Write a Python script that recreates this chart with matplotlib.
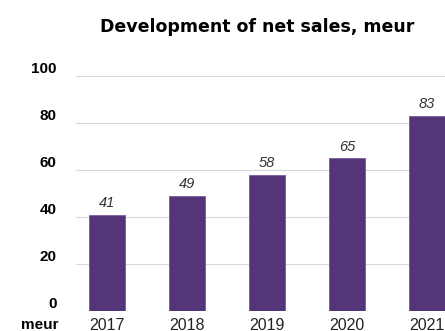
import matplotlib.pyplot as plt
import numpy as np

years = ['2017', '2018', '2019', '2020', '2021']
net_sales = [41, 49, 58, 65, 83]
y_ticks = [0, 20, 40, 60, 80, 100]

W, H = 445, 331
fig = plt.figure(figsize=(W / 100, H / 100), dpi=100)
# axes extends past the right edge so the last bar is cut off
ax = fig.add_axes([76 / W, 20 / H, (445 - 76) / W, (311 - 76) / H])

x = np.arange(len(years))
ax.bar(x, net_sales, width=0.45, color='#553579', edgecolor='#7a5a9a', linewidth=0.6, zorder=3)
for xi, v in zip(x, net_sales):
    ax.text(xi, v + 2, str(v), ha='center', va='bottom', fontsize=10.5,
            style='italic', color='#333333', family='Liberation Sans')

ax.set_xlim(-0.3875, 4.225)
ax.set_ylim(0, 100)
ax.set_yticks(y_ticks)
# y labels sit just above their grid lines
ax.set_yticklabels([str(t) for t in y_ticks], fontweight='bold', fontsize=11,
                   family='Liberation Sans', va='bottom')
ax.set_xticks(x)
ax.set_xticklabels(years, fontsize=11.5, family='Liberation Sans', color='#222222')
ax.tick_params(axis='y', length=0, pad=14)
ax.tick_params(axis='x', length=0, pad=5)
ax.grid(axis='y', color='#d9d9d9', linewidth=0.8, zorder=0)
for s in ax.spines.values():
    s.set_visible(False)

fig.text(40 / W, 1 - 325 / H, 'meur', ha='center', va='center', fontsize=11,
         fontweight='bold', family='Liberation Sans')
fig.text(257 / W, 1 - 27 / H, 'Development of net sales, meur', ha='center',
         va='center', fontsize=12.5, fontweight='bold')

fig.savefig('out.png', dpi=100)
